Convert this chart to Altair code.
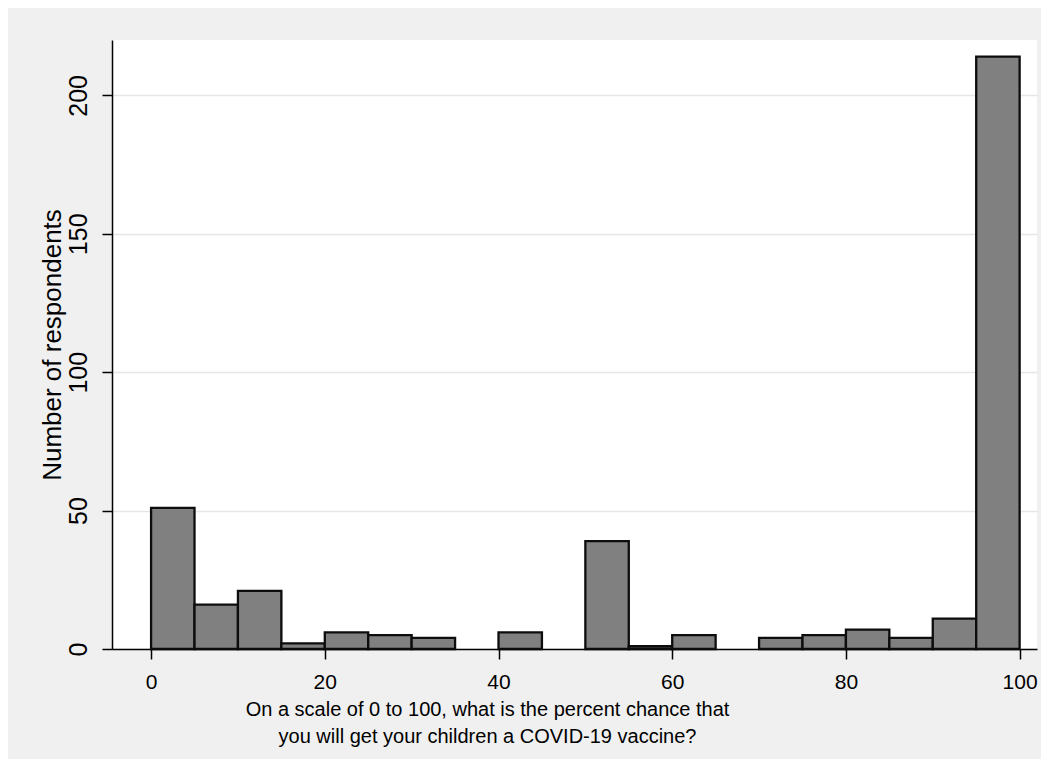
import altair as alt
import pandas as pd

bin_start = [0, 5, 10, 15, 20, 25, 30, 35, 40, 45, 50, 55, 60, 65, 70, 75, 80, 85, 90, 95]
bin_width = 5
counts = [51, 16, 21, 2, 6, 5, 4, 0, 6, 0, 39, 1, 5, 0, 4, 5, 7, 4, 11, 214]
x_ticks = [0, 20, 40, 60, 80, 100]
y_ticks = [0, 50, 100, 150, 200]
x_title = ["On a scale of 0 to 100, what is the percent chance that",
           "you will get your children a COVID-19 vaccine?"]
y_title = "Number of respondents"

df = pd.DataFrame({
    "start": bin_start,
    "end": [s + bin_width for s in bin_start],
    "count": counts,
    "base": [0] * len(bin_start),
})

font = "Liberation Sans"

chart = (
    alt.Chart(df)
    .transform_filter(alt.datum["count"] > 0)
    .mark_rect(fill="#808080", stroke="#0d0d0d", strokeWidth=2.3)
    .encode(
        x=alt.X(
            "start:Q",
            scale=alt.Scale(domain=[-4.5, 102], nice=False, zero=False),
            axis=alt.Axis(
                values=x_ticks,
                grid=False,
                tickSize=10,
                tickWidth=1.5,
                tickColor="black",
                domainColor="black",
                domainWidth=1.5,
                labelFont=font,
                labelFontSize=21,
                labelColor="black",
                labelPadding=12,
                title=x_title,
                titleFont=font,
                titleFontSize=20,
                titleFontWeight="normal",
                titleColor="black",
                titleAlign="center",
                titleBaseline="alphabetic",
                titleX=375,
                titleY=66,
                titleLineHeight=27,
            ),
        ),
        x2="end:Q",
        y=alt.Y(
            "count:Q",
            scale=alt.Scale(domain=[0, 220], nice=False, padding=0),
            axis=alt.Axis(
                values=y_ticks,
                grid=True,
                gridColor="#E6E6E6",
                gridWidth=1.5,
                tickSize=10,
                tickWidth=1.5,
                tickColor="black",
                domainColor="black",
                domainWidth=1.5,
                labelFont=font,
                labelFontSize=25,
                labelColor="black",
                labelAngle=270,
                labelAlign="center",
                labelBaseline="alphabetic",
                labelPadding=16,
                title=y_title,
                titleFont=font,
                titleFontSize=26,
                titleFontWeight="normal",
                titleColor="black",
                titleAngle=270,
                titleAlign="center",
                titleBaseline="alphabetic",
                titleX=-52,
                titleY=304.5,
            ),
        ),
        y2="base:Q",
    )
    .properties(
        width=925,
        height=609,
        background="#F0F0F0",
        padding={"left": 104, "top": 32, "right": 4, "bottom": 110},
        autosize=alt.AutoSizeParams(type="none"),
    )
    .configure_view(stroke=None, fill="white")
)

chart.save("out.html", embed_options={"renderer": "svg", "actions": False})
